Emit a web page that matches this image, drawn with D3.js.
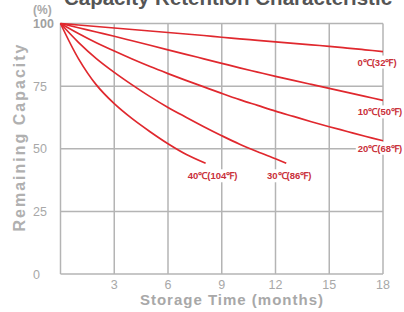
<!DOCTYPE html>
<html>
<head>
<meta charset="utf-8">
<script src="https://cdn.jsdelivr.net/npm/d3@7"></script>
<style>
  body { margin: 0; background: #fff; }
  svg { display: block; font-family: "Liberation Sans", Arial, sans-serif; }
</style>
</head>
<body>
<div id="chart"></div>
<script>
// values
var months = [0, 1, 2, 3, 4, 5, 6, 7, 8, 9, 10, 11, 12, 13, 14, 15, 16, 17, 18];
var c0  = [100, 99.4, 98.8, 98.2, 97.6, 97.0, 96.4, 95.8, 95.2, 94.5, 93.9, 93.3, 92.7, 92.1, 91.5, 90.9, 90.2, 89.5, 88.8];
var c10 = [100, 98.3, 96.6, 94.9, 93.1, 91.3, 89.5, 87.7, 85.9, 84.1, 82.3, 80.6, 78.9, 77.3, 75.7, 74.1, 72.5, 70.9, 69.3];
var c20 = [100, 96.0, 92.3, 89.0, 85.8, 82.8, 80.0, 77.3, 74.7, 72.1, 69.6, 67.3, 65.0, 62.9, 60.8, 58.8, 56.9, 55.0, 53.2];
var c30 = [100, 92.5, 86.0, 80.5, 75.5, 70.8, 66.5, 62.6, 58.8, 55.2, 51.8, 48.8, 46.0];
var c40 = [100, 86.0, 75.5, 68.0, 62.0, 56.8, 52.0, 47.8];
var c30End = [12.6, 44.2];
var c40End = [8.1, 44.2];
var yTicks = [0, 25, 50, 75, 100];
var xTicks = [3, 6, 9, 12, 15, 18];
var seriesNames = ["0℃(32℉)", "10℃(50℉)", "20℃(68℉)", "30℃(86℉)", "40℃(104℉)"];

function pts(vals, end) {
  var p = vals.map(function (v, i) { return [months[i], v]; });
  if (end) p.push(end);
  return p;
}
var series = [
  { name: seriesNames[0], pts: pts(c0) },
  { name: seriesNames[1], pts: pts(c10) },
  { name: seriesNames[2], pts: pts(c20) },
  { name: seriesNames[3], pts: pts(c30, c30End) },
  { name: seriesNames[4], pts: pts(c40, c40End) }
];

var W = 404, H = 312;
var svg = d3.select("#chart").append("svg").attr("width", W).attr("height", H);

var x = d3.scaleLinear().domain([0, 18]).range([60.5, 383]);
var y = d3.scaleLinear().domain([0, 100]).range([274, 23.5]);

var grid = "#b4b4b4";

// title (cut off at the top)
svg.append("text")
  .attr("x", 228).attr("y", 5)
  .attr("text-anchor", "middle")
  .attr("font-size", 20.5).attr("font-weight", "bold")
  .attr("fill", "#555")
  .text("Capacity Retention Characteristic");

// grid
svg.append("g").selectAll("line.h")
  .data(yTicks).enter().append("line")
  .attr("x1", x(0)).attr("x2", x(18))
  .attr("y1", function (d) { return y(d); })
  .attr("y2", function (d) { return y(d); })
  .attr("stroke", grid).attr("stroke-width", 1.5);

svg.append("g").selectAll("line.v")
  .data([0].concat(xTicks)).enter().append("line")
  .attr("x1", function (d) { return x(d); })
  .attr("x2", function (d) { return x(d); })
  .attr("y1", y(100)).attr("y2", y(0))
  .attr("stroke", grid).attr("stroke-width", 1.5);

// y tick labels (left aligned in the picture)
svg.append("g").selectAll("text")
  .data(yTicks).enter().append("text")
  .attr("x", 33)
  .attr("y", function (d) { return y(d) + 4.5; })
  .attr("font-size", 12.5)
  .attr("font-weight", function (d) { return d === 100 ? "bold" : "normal"; })
  .attr("fill", function (d) { return d === 100 ? "#a0a0a0" : "#a8a8a8"; })
  .text(function (d) { return d; });

svg.append("text")
  .attr("x", 33).attr("y", 14)
  .attr("font-size", 12).attr("font-weight", "bold")
  .attr("fill", "#a8a8a8")
  .text("(%)");

// x tick labels
svg.append("g").selectAll("text")
  .data(xTicks).enter().append("text")
  .attr("x", function (d) { return x(d); })
  .attr("y", 289)
  .attr("text-anchor", "middle")
  .attr("font-size", 12.5)
  .attr("fill", "#a8a8a8")
  .text(function (d) { return d; });

// axis titles
svg.append("text")
  .attr("x", 232).attr("y", 305)
  .attr("text-anchor", "middle")
  .attr("font-size", 15).attr("font-weight", "bold")
  .attr("letter-spacing", 1)
  .attr("fill", "#a8a8a8")
  .text("Storage Time (months)");

svg.append("text")
  .attr("transform", "translate(25,137) rotate(-90)")
  .attr("text-anchor", "middle")
  .attr("font-size", 16).attr("font-weight", "bold")
  .attr("letter-spacing", 2)
  .attr("fill", "#b0b0b0")
  .text("Remaining Capacity");

// curves
var line = d3.line()
  .x(function (d) { return x(d[0]); })
  .y(function (d) { return y(d[1]); })
  .curve(d3.curveCatmullRom);

svg.append("g").selectAll("path")
  .data(series).enter().append("path")
  .attr("d", function (d) { return line(d.pts); })
  .attr("fill", "none")
  .attr("stroke", "#e0282e")
  .attr("stroke-width", 1.7);

// series labels with white boxes
var labelPos = [
  { dx: -6, dy: 14 },
  { dx: -3, dy: 15 },
  { dx: -3, dy: 11 },
  { dx: 3, dy: 16 },
  { dx: 7, dy: 16 }
];
var lab = svg.append("g").selectAll("g")
  .data(series).enter().append("g")
  .attr("transform", function (d, i) {
    var last = d.pts[d.pts.length - 1];
    return "translate(" + (x(last[0]) + labelPos[i].dx) + "," + (y(last[1]) + labelPos[i].dy) + ")";
  });

lab.append("text")
  .attr("text-anchor", "middle")
  .attr("font-size", 9.5).attr("font-weight", "bold")
  .attr("fill", "#c9303a")
  .text(function (d) { return d.name; })
  .each(function () {
    var b = this.getBBox();
    d3.select(this.parentNode).insert("rect", "text")
      .attr("x", b.x - 2).attr("y", b.y - 1)
      .attr("width", b.width + 4).attr("height", b.height + 2)
      .attr("fill", "#fff");
  });
</script>
</body>
</html>
